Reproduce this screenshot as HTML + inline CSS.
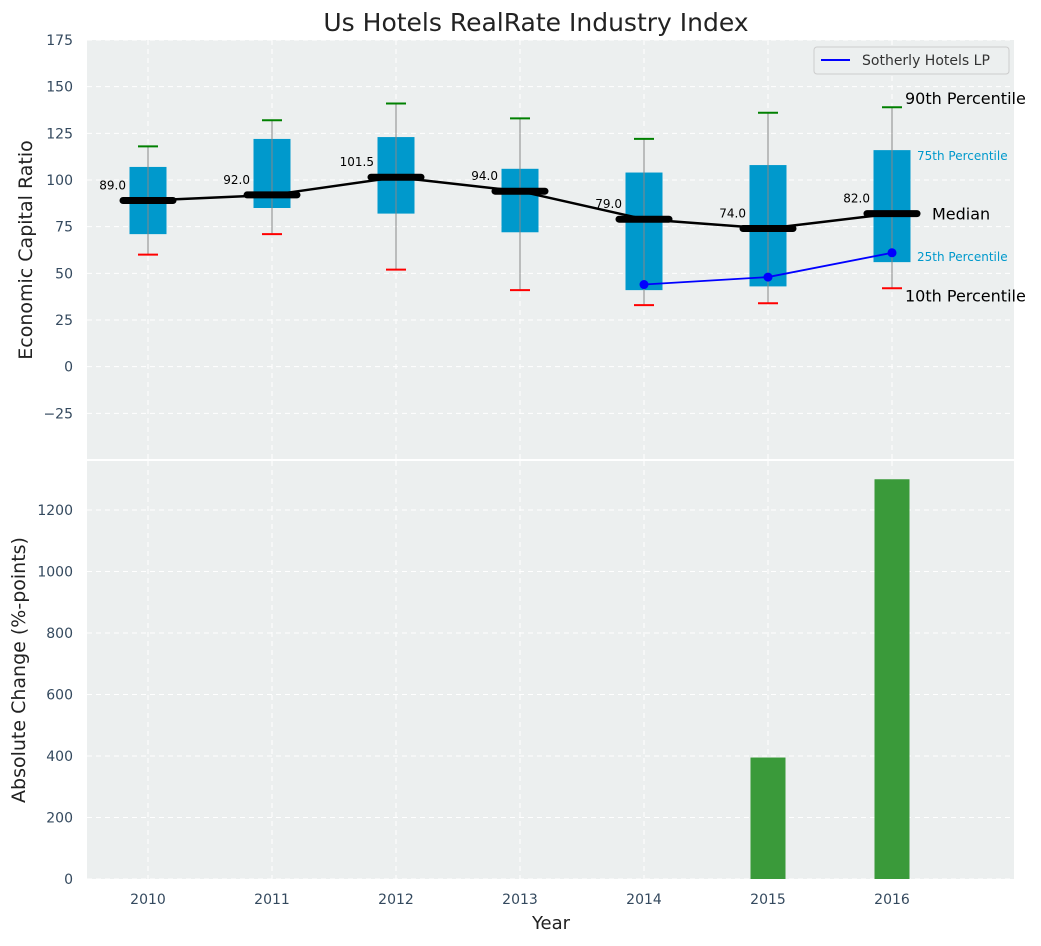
<!DOCTYPE html>
<html><head><meta charset="utf-8"><style>
body{margin:0;background:#fff;font-family:"DejaVu Sans","Liberation Sans",sans-serif;}
</style></head><body>
<svg id="c" width="1041" height="942" xmlns="http://www.w3.org/2000/svg" font-family="DejaVu Sans, Liberation Sans, sans-serif"></svg>
<script>
const years=[2010,2011,2012,2013,2014,2015,2016];
const p10=[60,71,52,41,33,34,42];
const q1=[71,85,82,72,41,43,56];
const med=[89,92,101.5,94,79,74,82];
const q3=[107,122,123,106,104,108,116];
const p90=[118,132,141,133,122,136,139];
const compYears=[2014,2015,2016];
const compVals=[44,48,61];
const barYears=[2015,2016];
const barVals=[395,1300];
const topTicks=[-25,0,25,50,75,100,125,150,175];
const botTicks=[0,200,400,600,800,1000,1200];

const NS="http://www.w3.org/2000/svg";
const svg=document.getElementById('c');
function el(t,a,p){const e=document.createElementNS(NS,t);for(const k in a)e.setAttribute(k,a[k]);(p||svg).appendChild(e);return e;}
const L=87,R=1014;
const x=v=>148+(v-2010)*124;
const yT=v=>40+(175-v)/(225)*420;
const yB=v=>879-v*0.3075;
const TC='#34495E';

let g=el('rect',{x:L,y:40,width:R-L,height:419,fill:'#ECEFEF'});

g=el('rect',{x:L,y:461,width:R-L,height:418,fill:'#ECEFEF'});


years.forEach(yr=>{
 el('line',{x1:x(yr),x2:x(yr),y1:40,y2:459,stroke:'#fff','stroke-dasharray':'5,4','stroke-width':1});
 el('line',{x1:x(yr),x2:x(yr),y1:461,y2:879,stroke:'#fff','stroke-dasharray':'5,4','stroke-width':1});
 const t=el('text',{x:x(yr),y:904,'font-size':14,fill:TC,'text-anchor':'middle'});t.textContent=yr;
 
});
topTicks.forEach(v=>{
 el('line',{x1:L,x2:R,y1:yT(v),y2:yT(v),stroke:'#fff','stroke-dasharray':'5,4'});
 const t=el('text',{x:73,y:yT(v)+5,'font-size':14,fill:TC,'text-anchor':'end'});t.textContent=v<0?'\u2212'+(-v):v;
 
});
botTicks.forEach(v=>{
 el('line',{x1:L,x2:R,y1:yB(v),y2:yB(v),stroke:'#fff','stroke-dasharray':'5,4'});
 const t=el('text',{x:73,y:yB(v)+5,'font-size':14,fill:TC,'text-anchor':'end'});t.textContent=v;
 
});

years.forEach((yr,i)=>{
 const cx=x(yr),hw=18.5;
 let b=el('rect',{x:cx-hw,y:yT(q3[i]),width:2*hw,height:yT(q1[i])-yT(q3[i]),fill:'#0099CC'});
 
 el('line',{x1:cx,x2:cx,y1:yT(p10[i]),y2:yT(p90[i]),stroke:'#888','stroke-width':1});
 el('line',{x1:cx-10,x2:cx+10,y1:yT(p90[i]),y2:yT(p90[i]),stroke:'green','stroke-width':2});
 el('line',{x1:cx-10,x2:cx+10,y1:yT(p10[i]),y2:yT(p10[i]),stroke:'red','stroke-width':2});
});
el('polyline',{points:years.map((yr,i)=>x(yr)+','+yT(med[i])).join(' '),fill:'none',stroke:'#000','stroke-width':2.5});
years.forEach((yr,i)=>{
 const m=el('line',{x1:x(yr)-25,x2:x(yr)+25,y1:yT(med[i]),y2:yT(med[i]),stroke:'#000','stroke-width':7,'stroke-linecap':'round'});
 
 const t=el('text',{x:x(yr)-22,y:yT(med[i])-11,'font-size':12,fill:'#000','text-anchor':'end'});t.textContent=med[i].toFixed(1);
 
});
el('polyline',{points:compYears.map((yr,i)=>x(yr)+','+yT(compVals[i])).join(' '),fill:'none',stroke:'blue','stroke-width':1.8});
compYears.forEach((yr,i)=>{const c=el('circle',{cx:x(yr),cy:yT(compVals[i]),r:4.5,fill:'blue'});
 });
const li=6,ax=x(2016);
[['90th Percentile',p90[li],16,'#000',ax+13,-3],['75th Percentile',q3[li],12,'#0099CC',ax+25,10],['Median',med[li],16,'#000',ax+40,6],['25th Percentile',q1[li],12,'#0099CC',ax+25,-1],['10th Percentile',p10[li],16,'#000',ax+13,13]].forEach(a=>{
 const t=el('text',{x:a[4],y:yT(a[1])+a[5],'font-size':a[2],fill:a[3]});t.textContent=a[0];
 
});
g=el('g',{});
el('rect',{x:814,y:47,width:195,height:27,rx:3,fill:'#ECEFEF',stroke:'#ccc'},g);
el('line',{x1:821,x2:850,y1:60,y2:60,stroke:'blue','stroke-width':2},g);
let lt=el('text',{x:862,y:65,'font-size':14,fill:'#333'},g);lt.textContent='Sotherly Hotels LP';
barYears.forEach((yr,i)=>{const b=el('rect',{x:x(yr)-17.5,y:yB(barVals[i]),width:35,height:yB(0)-yB(barVals[i]),fill:'#3A9A3A'});
 });
let t=el('text',{x:536,y:31,'font-size':25,fill:'#222','text-anchor':'middle'});t.textContent='Us Hotels RealRate Industry Index';

t=el('text',{x:551,y:929,'font-size':18,fill:'#222','text-anchor':'middle'});t.textContent='Year';

t=el('text',{x:0,y:0,'font-size':19,fill:'#222','text-anchor':'middle',transform:'translate(32,250) rotate(-90)'});t.textContent='Economic Capital Ratio';

t=el('text',{x:0,y:0,'font-size':19,fill:'#222','text-anchor':'middle',transform:'translate(25,670) rotate(-90)'});t.textContent='Absolute Change (%-points)';

</script>
</body></html>
